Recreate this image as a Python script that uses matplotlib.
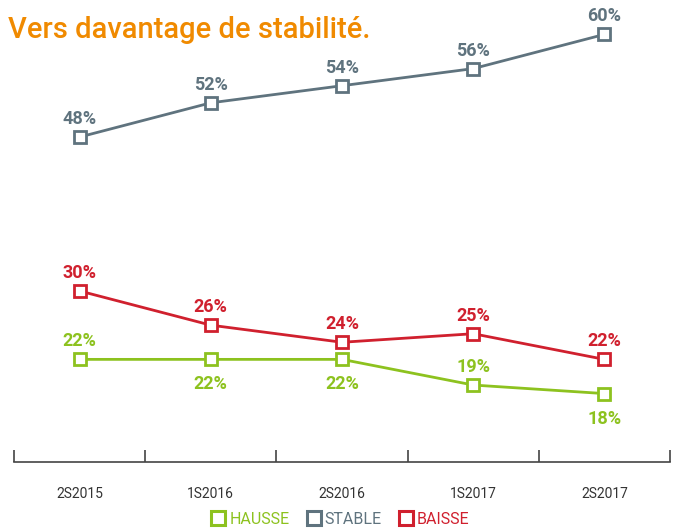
import matplotlib
matplotlib.use("Agg")
import matplotlib.pyplot as plt
from matplotlib.lines import Line2D

categories = ["2S2015", "1S2016", "2S2016", "1S2017", "2S2017"]
hausse = [22, 22, 22, 19, 18]
stable = [48, 52, 54, 56, 60]
baisse = [30, 26, 24, 25, 22]
hausse_pos = ["above", "below", "below", "above", "below"]

C_H = "#8DC21F"
C_S = "#5F737E"
C_B = "#D0202E"

plt.rcParams['font.family'] = ['Roboto', 'DejaVu Sans']

fig = plt.figure(figsize=(6.76, 5.29), dpi=100)
ax = fig.add_axes([14/676, 1-462/529, (670-14)/676, (462-17.3)/529])
x = list(range(len(categories)))

def draw(vals, color, pos):
    ax.plot(x, vals, color=color, lw=2, marker='s', ms=9, mfc='white',
            mec=color, mew=2, zorder=3, clip_on=False)
    for xi, v, p in zip(x, vals, pos):
        off = 13 if p == "above" else -18
        ax.annotate(f"{v}%", (xi, v), xytext=(0, off), textcoords='offset points',
                    ha='center', va='center', color=color, fontsize=13,
                    fontweight='bold')

draw(stable, C_S, ["above"] * 5)
draw(baisse, C_B, ["above"] * 5)
draw(hausse, C_H, hausse_pos)

ax.set_xlim(-0.5, 4.5)
ax.set_ylim(10, 62)
for s in ['left', 'right', 'top']:
    ax.spines[s].set_visible(False)
ax.spines['bottom'].set_color('#444444')
ax.spines['bottom'].set_linewidth(1.2)
ax.set_yticks([])
ax.set_xticks(x)
ax.set_xticklabels(categories, fontsize=10, color='#333333')
ax.tick_params(axis='x', which='major', length=0, pad=18)
ax.set_xticks([i - 0.5 for i in range(len(categories) + 1)], minor=True)
ax.tick_params(axis='x', which='minor', direction='in', length=9,
               width=1.2, color='#444444')

fig.text(8/676, 1-30/529, "Vers davantage de stabilité.", color='#F08A00',
         fontsize=21, fontweight='medium', va='center', ha='left')

handles = [Line2D([], [], ls='none', marker='s', ms=10, mfc='white', mec=c, mew=2.2)
           for c in (C_H, C_S, C_B)]
leg = fig.legend(handles, ["HAUSSE", "STABLE", "BAISSE"], loc='center',
                 bbox_to_anchor=(340/676, 1-519/529), ncol=3, frameon=False,
                 fontsize=11.5, handletextpad=0.2, columnspacing=1.0,
                 handlelength=1.0, labelcolor=[C_H, C_S, C_B])

fig.savefig("out.png", dpi=100)
